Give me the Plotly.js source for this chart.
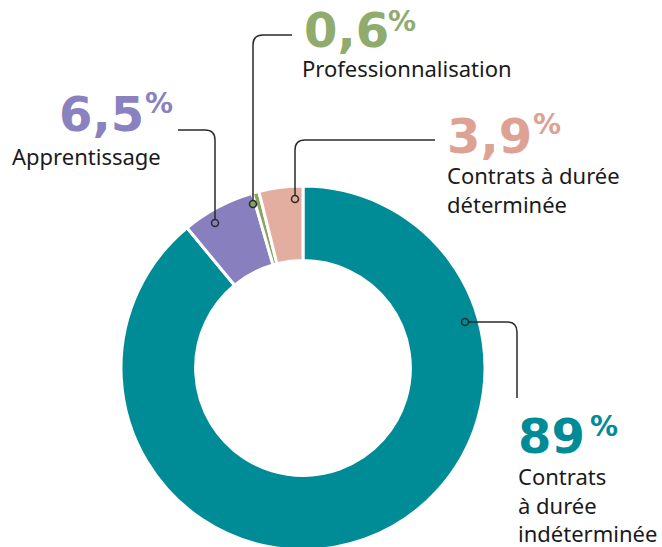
<!DOCTYPE html>
<html>
<head>
<meta charset="utf-8">
<script src="https://cdn.plot.ly/plotly-3.0.1.min.js"></script>
<style>
html,body{margin:0;padding:0;overflow:hidden;background:#fff;}
#chart{width:662px;height:552px;}
</style>
</head>
<body>
<div id="chart"></div>
<script>
// Data
const categories = ["Contrats à durée indéterminée", "Apprentissage", "Professionnalisation", "Contrats à durée déterminée"];
const values = [89, 6.5, 0.6, 3.9];
const valueLabels = ["89", "6,5", "0,6", "3,9"];
const labelTexts = ["Contrats<br>à durée<br>indéterminée", "Apprentissage", "Professionnalisation", "Contrats à durée<br>déterminée"];
const sliceColors = ["#008C96", "#8880BE", "#88A463", "#E3AE9F"];
const numberColors = ["#008C96", "#8A82C0", "#8FAB6E", "#DEA294"];

const W = 662, H = 552;
const px = x => x / W;
const py = y => 1 - y / H;

// Layout positions (pixels) for the text blocks and leader lines
const numPos = [[516, 436], [57, 114], [302, 30], [445, 136]];
const pctPos = [[588, 426], [143, 103], [386, 21], [531, 124]];
const lblPos = [[516, 459], [10, 139], [300, 51], [445, 158]];
const leaderPaths = [
  [[465, 322], [507, 322], [517, 322], [517, 332], [517, 398]],
  [[215, 223], [215, 140], [215, 130], [205, 130], [178, 130]],
  [[253, 204], [253, 45], [253, 35], [263, 35], [292, 35]],
  [[295, 199], [295, 150], [295, 140], [305, 140], [435, 140]]
];

const pie = {
  type: 'pie',
  labels: categories,
  values: values,
  sort: false,
  direction: 'clockwise',
  rotation: 0,
  hole: 0.59,
  textinfo: 'none',
  hoverinfo: 'label+percent',
  showlegend: false,
  marker: {colors: sliceColors, line: {color: '#ffffff', width: 3}},
  domain: {x: [px(121), px(485)], y: [py(550), py(186)]}
};

const annotations = [];
const shapes = [];
for (let i = 0; i < categories.length; i++) {
  annotations.push({
    xref: 'paper', yref: 'paper', x: px(numPos[i][0]), y: py(numPos[i][1]),
    xanchor: 'left', yanchor: 'middle', showarrow: false,
    text: '<b>' + valueLabels[i] + '</b>',
    font: {family: 'DejaVu Sans', size: 48, color: numberColors[i]}
  });
  annotations.push({
    xref: 'paper', yref: 'paper', x: px(pctPos[i][0]), y: py(pctPos[i][1]),
    xanchor: 'left', yanchor: 'middle', showarrow: false,
    text: '<b>%</b>',
    font: {family: 'DejaVu Sans', size: 28, color: numberColors[i]}
  });
  annotations.push({
    xref: 'paper', yref: 'paper', x: px(lblPos[i][0]), y: py(lblPos[i][1]),
    xanchor: 'left', yanchor: 'top', align: 'left', showarrow: false,
    text: labelTexts[i],
    font: {family: 'Noto Sans', size: 22, color: '#1a1a1a'}
  });
  const p = leaderPaths[i];
  const path = 'M' + px(p[0][0]) + ',' + py(p[0][1]) +
    ' L' + px(p[1][0]) + ',' + py(p[1][1]) +
    ' Q' + px(p[2][0]) + ',' + py(p[2][1]) + ' ' + px(p[3][0]) + ',' + py(p[3][1]) +
    ' L' + px(p[4][0]) + ',' + py(p[4][1]);
  shapes.push({type: 'path', xref: 'paper', yref: 'paper', path: path,
    line: {color: '#2a2a2a', width: 1.5}});
  const r = 3.5;
  shapes.push({type: 'circle', xref: 'paper', yref: 'paper',
    x0: px(p[0][0] - r), x1: px(p[0][0] + r), y0: py(p[0][1] + r), y1: py(p[0][1] - r),
    fillcolor: sliceColors[i], line: {color: '#2a2a2a', width: 1.5}});
}

const layout = {
  width: W, height: H,
  margin: {l: 0, r: 0, t: 0, b: 0},
  paper_bgcolor: '#ffffff',
  plot_bgcolor: '#ffffff',
  showlegend: false,
  annotations: annotations,
  shapes: shapes
};

Plotly.newPlot('chart', [pie], layout, {displayModeBar: false, staticPlot: true});
</script>
</body>
</html>
